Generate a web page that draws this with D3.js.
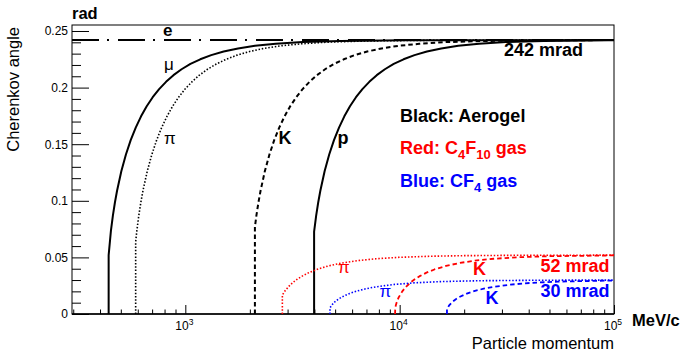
<!DOCTYPE html>
<html>
<head>
<meta charset="utf-8">
<script src="https://cdn.jsdelivr.net/npm/d3@7"></script>
<style>
  html, body { margin: 0; padding: 0; background: #fff; }
  svg { display: block; font-family: "Liberation Sans", Arial, Helvetica, sans-serif; }
</style>
</head>
<body>
<svg id="chart" width="681" height="355"></svg>
<script>
// Cherenkov angle (rad) versus particle momentum (MeV/c), pairs of [p, theta]

// Aerogel radiator (saturates at 242 mrad)
const aerogelElectron = [[296, 0.242], [100000, 0.242]];
const aerogelMuon = [
  [438.8, 0], [438.8, 0.052], [449.6, 0.0734], [459.4, 0.0871], [469.6, 0.0987],
  [480.3, 0.1089], [503.1, 0.1263], [528.3, 0.1409], [556.1, 0.1536], [587.0, 0.1647],
  [621.5, 0.1746], [660.4, 0.1835], [704.4, 0.1915], [754.7, 0.1987], [812.8, 0.2051],
  [880.5, 0.2110], [960.5, 0.2162], [1056.6, 0.2209], [1174, 0.2250], [1320.8, 0.2287],
  [1509.4, 0.2319], [1761, 0.2346], [2113, 0.2369], [2641.5, 0.2387], [3522, 0.2402],
  [5283, 0.2412], [10566, 0.2418], [100000, 0.2420]
];
const aerogelPion = [
  [586.6, 0], [586.6, 0.0639], [593.9, 0.0734], [606.8, 0.0871], [620.3, 0.0987],
  [634.4, 0.1089], [664.6, 0.1263], [697.9, 0.1409], [734.6, 0.1536], [775.4, 0.1647],
  [821.0, 0.1746], [872.3, 0.1835], [930.5, 0.1915], [996.9, 0.1987], [1073.6, 0.2051],
  [1163.1, 0.2110], [1268.8, 0.2162], [1395.7, 0.2209], [1550.8, 0.2250], [1744.6, 0.2287],
  [1993.9, 0.2319], [2326, 0.2346], [2791, 0.2369], [3489, 0.2387], [4652, 0.2402],
  [6979, 0.2412], [13957, 0.2418], [100000, 0.2420]
];
const aerogelKaon = [
  [2111.8, 0], [2111.8, 0.077], [2146.4, 0.0871], [2194.1, 0.0987], [2244, 0.1089],
  [2350.9, 0.1263], [2468.4, 0.1409], [2598.3, 0.1536], [2742.7, 0.1647], [2904, 0.1746],
  [3085.5, 0.1835], [3291.2, 0.1915], [3526.3, 0.1987], [3797.5, 0.2051], [4114, 0.2110],
  [4488, 0.2162], [4936.8, 0.2209], [5485, 0.2250], [6171, 0.2287], [7052.6, 0.2319],
  [8228, 0.2346], [9873.6, 0.2369], [12342, 0.2387], [16456, 0.2402], [24684, 0.2412],
  [49368, 0.2418], [100000, 0.2420]
];
const aerogelProton = [
  [3988.9, 0], [3988.9, 0.0727], [4079.4, 0.0871], [4170, 0.0987], [4264.9, 0.1089],
  [4468, 0.1263], [4691.4, 0.1409], [4938.3, 0.1536], [5212.6, 0.1647], [5519.2, 0.1746],
  [5864.2, 0.1835], [6255.1, 0.1915], [6701.9, 0.1987], [7217.5, 0.2051], [7818.9, 0.2110],
  [8529.7, 0.2162], [9382.7, 0.2209], [10425, 0.2250], [11728, 0.2287], [13404, 0.2319],
  [15638, 0.2346], [18765, 0.2369], [23457, 0.2387], [31276, 0.2402], [46914, 0.2412],
  [93827, 0.2418], [100000, 0.2418]
];

// C4F10 gas radiator (saturates at 52 mrad)
const c4f10Pion = [
  [2836, 0], [2836, 0.0168], [2907.7, 0.0200], [3034.1, 0.02425], [3172, 0.02771],
  [3323, 0.03066], [3489, 0.03323], [3772, 0.03654], [4105, 0.03934], [4652, 0.04247],
  [5368, 0.04503], [6344, 0.04712], [7754, 0.04879], [9969, 0.05008], [13957, 0.05103],
  [19939, 0.05153], [34893, 0.05185], [100000, 0.0520]
];
const c4f10Kaon = [
  [9517, 0], [9530, 0.0037], [9586, 0.0072], [9680, 0.0101], [9874, 0.0143],
  [10285, 0.0200], [10732, 0.02425], [11220, 0.02771], [11754, 0.03066], [12342, 0.03323],
  [13343, 0.03654], [14520, 0.03934], [16456, 0.04247], [18988, 0.04503], [22440, 0.04712],
  [27427, 0.04879], [35263, 0.05008], [49368, 0.05103], [100000, 0.05177]
];

// CF4 gas radiator (saturates at 30 mrad)
const cf4Pion = [
  [4731, 0], [4731, 0.00545], [4813, 0.00768], [4985, 0.01077], [5169, 0.01308],
  [5368, 0.01497], [5815, 0.0180], [6344, 0.0204], [6979, 0.02236], [7754, 0.0240],
  [9305, 0.02598], [11631, 0.0275], [15508, 0.02862], [23262, 0.02939], [46523, 0.02985],
  [100000, 0.02997]
];
const cf4Kaon = [
  [16622, 0], [16622, 0.0042], [17023, 0.00768], [17631, 0.01077], [18284, 0.01308],
  [18988, 0.01497], [20570, 0.0180], [22440, 0.0204], [24684, 0.02236], [27427, 0.0240],
  [32912, 0.02598], [41140, 0.0275], [54853, 0.02862], [100000, 0.0296]
];

// Axis ticks
const yMajorTicks = [0, 0.05, 0.1, 0.15, 0.2, 0.25];
const xMajorTicks = [1e3, 1e4, 1e5];
const xMajorExponents = ["3", "4", "5"];

// Layout
const frame = { left: 72, right: 614, top: 25, bottom: 314 };
const svg = d3.select("#chart");

const x = d3.scaleLog().domain([296, 1e5]).range([frame.left, frame.right]);
const y = d3.scaleLinear().domain([0, 0.2553]).range([frame.bottom, frame.top]);

svg.append("defs").append("clipPath").attr("id", "plotClip")
  .append("rect")
  .attr("x", frame.left).attr("y", frame.top)
  .attr("width", frame.right - frame.left).attr("height", frame.bottom - frame.top);

// Minor tick positions on the log axis
const xMinorTicks = [];
[100, 1000, 10000].forEach(dec => {
  for (let k = 2; k <= 9; k++) {
    const v = dec * k;
    if (v >= 296 && v < 1e5) xMinorTicks.push(v);
  }
});
const yMinorTicks = d3.range(1, 26).map(i => i / 100).filter(v => Math.round(v * 100) % 5 !== 0);

// Bottom axis: inward-pointing ticks
svg.append("g")
  .attr("transform", `translate(0,${frame.bottom})`)
  .call(d3.axisBottom(x).tickValues(xMinorTicks).tickSize(-4.5).tickFormat(""))
  .call(g => g.select(".domain").remove());
svg.append("g")
  .attr("transform", `translate(0,${frame.bottom})`)
  .call(d3.axisBottom(x).tickValues(xMajorTicks).tickSize(-9).tickFormat(""))
  .call(g => g.select(".domain").remove());

// Bottom axis labels as 10 with a superscript exponent
const xLab = svg.append("g").attr("font-size", 12).attr("fill", "#000");
xMajorTicks.forEach((v, i) => {
  const t = xLab.append("text")
    .attr("x", x(v) - 1).attr("y", 330)
    .attr("text-anchor", "middle");
  t.append("tspan").text("10");
  t.append("tspan").attr("font-size", 8.5).attr("dy", -5).text(xMajorExponents[i]);
});

// Left axis
svg.append("g")
  .attr("transform", `translate(${frame.left},0)`)
  .call(d3.axisLeft(y).tickValues(yMinorTicks).tickSize(-9).tickFormat(""))
  .call(g => g.select(".domain").remove());
svg.append("g")
  .attr("transform", `translate(${frame.left},0)`)
  .call(d3.axisLeft(y).tickValues(yMajorTicks).tickSize(-17).tickPadding(4)
    .tickFormat(d => String(+d.toFixed(2))))
  .call(g => g.select(".domain").remove())
  .call(g => g.selectAll("text").attr("font-size", 12).attr("font-family", "Liberation Sans, Arial, sans-serif"));

svg.selectAll(".tick line").attr("stroke", "#000").attr("stroke-width", 1);

// Frame
svg.append("rect")
  .attr("x", frame.left).attr("y", frame.top)
  .attr("width", frame.right - frame.left).attr("height", frame.bottom - frame.top)
  .attr("fill", "none").attr("stroke", "#000").attr("stroke-width", 1);
svg.append("line")
  .attr("x1", frame.left).attr("x2", frame.right)
  .attr("y1", frame.bottom).attr("y2", frame.bottom)
  .attr("stroke", "#000").attr("stroke-width", 1.5);

// Curves
const line = d3.line().x(d => x(d[0])).y(d => y(d[1]));
const plot = svg.append("g").attr("clip-path", "url(#plotClip)");

const solid = null, dotted = "1.5,1.8", dashed = "4.5,3", dashDot = "27,8,2,9";
const curves = [
  { data: aerogelElectron, color: "#000", width: 2, dash: dashDot },
  { data: aerogelMuon, color: "#000", width: 2, dash: solid },
  { data: aerogelPion, color: "#000", width: 1.6, dash: dotted },
  { data: aerogelKaon, color: "#000", width: 2, dash: dashed },
  { data: aerogelProton, color: "#000", width: 2, dash: solid },
  { data: c4f10Pion, color: "#ff0000", width: 1.6, dash: dotted },
  { data: c4f10Kaon, color: "#ff0000", width: 1.8, dash: dashed },
  { data: cf4Pion, color: "#0000ff", width: 1.6, dash: dotted },
  { data: cf4Kaon, color: "#0000ff", width: 1.8, dash: dashed }
];
curves.forEach(c => {
  plot.append("path")
    .attr("d", line(c.data))
    .attr("fill", "none")
    .attr("stroke", c.color)
    .attr("stroke-width", c.width)
    .attr("stroke-dasharray", c.dash)
    .attr("stroke-linejoin", "round");
});

// Curve annotations
const notes = [
  { t: "e", x: 163, y: 36, bold: true, color: "#000", size: 17 },
  { t: "\u03bc", x: 164, y: 70, bold: false, color: "#000", size: 17 },
  { t: "\u03c0", x: 164, y: 144, bold: false, color: "#000", size: 17 },
  { t: "K", x: 278.5, y: 144, bold: true, color: "#000", size: 18 },
  { t: "p", x: 337.5, y: 144, bold: true, color: "#000", size: 18 },
  { t: "\u03c0", x: 338, y: 273, bold: false, color: "#ff0000", size: 17 },
  { t: "K", x: 473, y: 275, bold: true, color: "#ff0000", size: 18 },
  { t: "\u03c0", x: 379.5, y: 297, bold: false, color: "#0000ff", size: 17 },
  { t: "K", x: 485.5, y: 304, bold: true, color: "#0000ff", size: 18 }
];
notes.forEach(n => {
  svg.append("text")
    .attr("x", n.x).attr("y", n.y)
    .attr("font-size", n.size)
    .attr("font-weight", n.bold ? "bold" : "normal")
    .attr("fill", n.color)
    .text(n.t);
});

// Saturation values
[
  { t: "242 mrad", y: 56, color: "#000" },
  { t: "52 mrad", y: 272, color: "#ff0000" },
  { t: "30 mrad", y: 296.5, color: "#0000ff" }
].forEach(s => {
  svg.append("text")
    .attr("x", s.t === "242 mrad" ? 583 : 609.5).attr("y", s.y)
    .attr("text-anchor", "end")
    .attr("font-size", 18).attr("font-weight", "bold")
    .attr("fill", s.color)
    .text(s.t);
});

// Radiator key
const key = svg.append("g").attr("font-size", 18).attr("font-weight", "bold");
key.append("text").attr("x", 400).attr("y", 121.5).attr("fill", "#000").text("Black: Aerogel");

const red = key.append("text").attr("x", 400).attr("y", 154).attr("fill", "#ff0000");
red.append("tspan").text("Red: C");
red.append("tspan").attr("font-size", 13).attr("dy", 5).text("4");
red.append("tspan").attr("dy", -5).text("F");
red.append("tspan").attr("font-size", 13).attr("dy", 5).text("10");
red.append("tspan").attr("dy", -5).text(" gas");

const blue = key.append("text").attr("x", 400).attr("y", 187).attr("fill", "#0000ff");
blue.append("tspan").text("Blue: CF");
blue.append("tspan").attr("font-size", 13).attr("dy", 5).text("4");
blue.append("tspan").attr("dy", -5).text(" gas");

// Axis titles
svg.append("text").attr("x", 72).attr("y", 19)
  .attr("font-size", 16.5).attr("font-weight", "bold").text("rad");
svg.append("text")
  .attr("transform", "translate(19,27) rotate(-90)")
  .attr("text-anchor", "end")
  .attr("font-size", 16.5).text("Cherenkov angle");
svg.append("text").attr("x", 632).attr("y", 326)
  .attr("font-size", 16.5).attr("font-weight", "bold").text("MeV/c");
svg.append("text").attr("x", 614).attr("y", 349)
  .attr("text-anchor", "end")
  .attr("font-size", 16.5).text("Particle momentum");
</script>
</body>
</html>
